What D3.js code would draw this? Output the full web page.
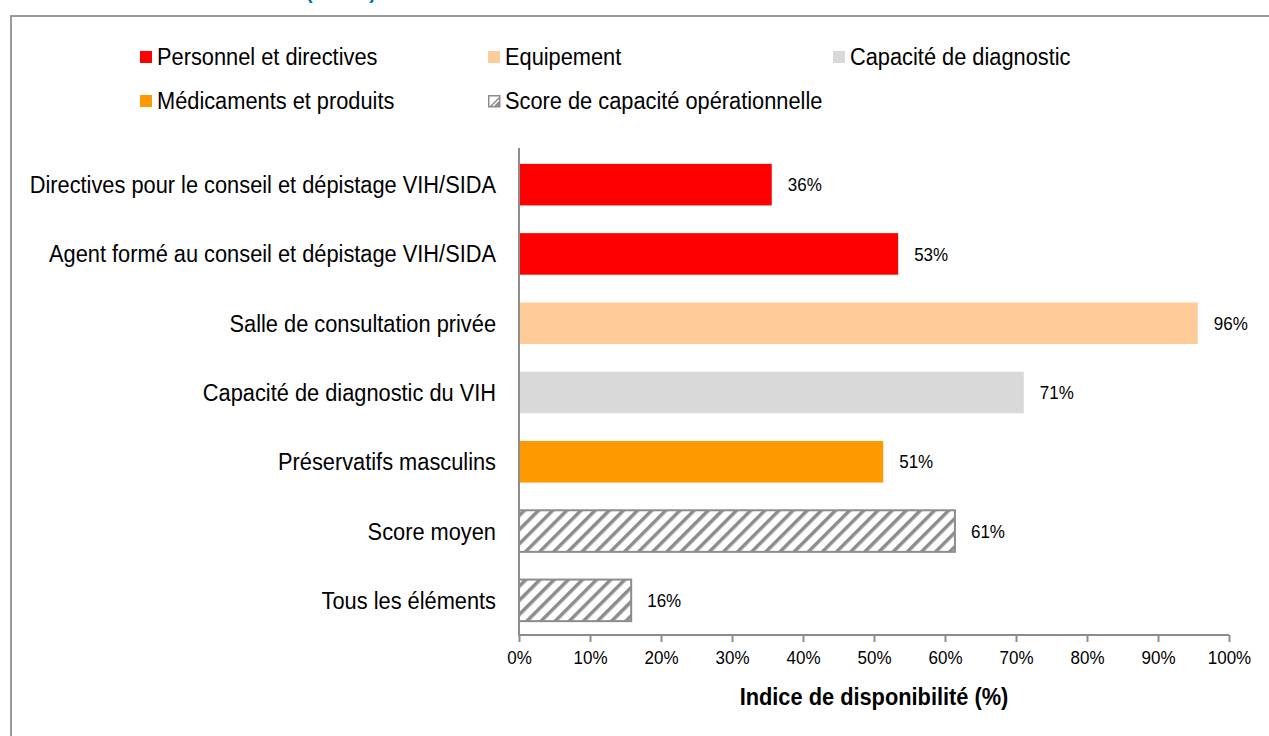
<!DOCTYPE html>
<html>
<head>
<meta charset="utf-8">
<script src="https://cdn.jsdelivr.net/npm/d3@7"></script>
<style>
  body { margin: 0; background: #fff; }
  text { font-family: "Liberation Sans", Arial, sans-serif; }
</style>
</head>
<body>
<div class="chart-div"></div>
<script>
//--------------------------- Data

var categories = [
    "Directives pour le conseil et dépistage VIH/SIDA",
    "Agent formé au conseil et dépistage VIH/SIDA",
    "Salle de consultation privée",
    "Capacité de diagnostic du VIH",
    "Préservatifs masculins",
    "Score moyen",
    "Tous les éléments"
];
var values = [35.6, 53.4, 95.6, 71.1, 51.3, 61.4, 15.8];
var labels = ["36%", "53%", "96%", "71%", "51%", "61%", "16%"];
var groups = ["pers", "pers", "equip", "diag", "med", "score", "score"];

var legendNames = ["Personnel et directives", "Equipement", "Capacité de diagnostic",
                   "Médicaments et produits", "Score de capacité opérationnelle"];
var legendKeys = ["pers", "equip", "diag", "med", "score"];
var ticks = [0, 10, 20, 30, 40, 50, 60, 70, 80, 90, 100];

var colors = { pers: "#FF0000", equip: "#FFCC99", diag: "#D9D9D9", med: "#FF9900", score: "url(#hatch)" };

//--------------------------- SVG definition

var width = 1269;
var height = 736;
var narrow = 0.9;                 // horizontal squeeze, the source used a condensed font
var bigFont = 21.8 / narrow;
var smallFont = 17 / narrow;

var svg = d3.select("div.chart-div")
    .append("svg")
    .attr("width", width)
    .attr("height", height)

var defs = svg.append("defs")
var pat = defs.append("pattern")
    .attr("id", "hatch")
    .attr("patternUnits", "userSpaceOnUse")
    .attr("width", 10)
    .attr("height", 10)
    .attr("patternTransform", "rotate(45)")
pat.append("rect").attr("width", 10).attr("height", 10).attr("fill", "white")
pat.append("rect").attr("x", 0).attr("width", 3.5).attr("height", 10).attr("fill", "#8c8c8c")

// text placed at (x, y) and squeezed horizontally
function label(g, x, y, str, size) {
    return g.append("text")
        .attr("transform", "translate(" + x + "," + y + ") scale(" + narrow + ",1)")
        .attr("dy", "0.35em")
        .text(str)
        .attr("font-size", size)
        .style("fill", "#000")
}

//--------------------------- Cut-off title and frame

svg.append("text")
    .attr("x", 306)
    .attr("y", -1)
    .text("(SARA)")
    .attr("font-size", 20)
    .attr("font-weight", "bold")
    .style("fill", "#0070C0")

svg.append("rect")
    .attr("x", 11)
    .attr("y", 16)
    .attr("width", 1300)
    .attr("height", 800)
    .attr("fill", "none")
    .attr("stroke", "#9a9a9a")
    .attr("stroke-width", 2)

//--------------------------- Scales

var x = d3.scaleLinear().domain([0, 100]).range([519, 1229]);
var y = d3.scaleBand().domain(categories).range([150, 635]).paddingInner(0.4).paddingOuter(0.2);

//--------------------------- Legend

var legendX = [140, 488, 833, 140, 488];
var legendY = [57, 57, 57, 101, 101];

var legend = svg.append("g")
for (k = 0; k < legendNames.length; k++) {
    var key = legendKeys[k];
    var lx = legendX[k], ly = legendY[k];
    if (key == "score") {
        // small hatched key: gray square, white corner, one diagonal
        legend.append("rect")
            .attr("x", lx + 0.75).attr("y", ly - 5.25)
            .attr("width", 11).attr("height", 11)
            .attr("fill", "white")
            .attr("stroke", "#8c8c8c")
            .attr("stroke-width", 1.5)
        legend.append("path")
            .attr("d", "M" + (lx + 2) + "," + (ly + 5) + "L" + (lx + 11) + "," + (ly - 4) + "L" + (lx + 11) + "," + (ly + 5) + "Z")
            .attr("fill", "#8c8c8c")
        legend.append("path")
            .attr("d", "M" + (lx + 5) + "," + (ly + 5) + "L" + (lx + 11) + "," + (ly - 1))
            .attr("stroke", "white")
            .attr("stroke-width", 1.5)
    } else {
        legend.append("rect")
            .attr("x", lx)
            .attr("y", ly - 6)
            .attr("width", 12)
            .attr("height", 12)
            .attr("fill", colors[key])
    }
    label(legend, lx + 17, ly, legendNames[k], bigFont)
}

//--------------------------- Bars

var frame = svg.append("g")

frame.selectAll("rect.bar").data(values).enter()
    .append("rect")
    .attr("class", "bar")
    .attr("x", x(0))
    .attr("y", function (d, i) { return y(categories[i]); })
    .attr("width", function (d) { return x(d) - x(0); })
    .attr("height", y.bandwidth())
    .attr("fill", function (d, i) { return colors[groups[i]]; })
    .attr("stroke", function (d, i) { return groups[i] == "score" ? "#8c8c8c" : "none"; })
    .attr("stroke-width", 2)

for (i = 0; i < values.length; i++) {
    var cy = y(categories[i]) + y.bandwidth() / 2;
    label(frame, x(values[i]) + 16, cy, labels[i], smallFont)
    label(frame, 496, cy, categories[i], bigFont).style("text-anchor", "end")
}

//--------------------------- Axes

var xAxis = svg.append("g")
    .attr("transform", "translate(0,635)")
    .call(d3.axisBottom(x).tickValues(ticks).tickSize(7).tickPadding(9)
        .tickFormat(function (d) { return d + "%"; }))
xAxis.select(".domain").attr("stroke", "#8c8c8c").attr("stroke-width", 2).attr("d", "M519,0H1229")
xAxis.selectAll(".tick line").attr("stroke", "#8c8c8c").attr("stroke-width", 2)
xAxis.selectAll(".tick text")
    .attr("font-size", smallFont)
    .attr("font-family", "Liberation Sans, Arial, sans-serif")
    .attr("transform", "scale(" + narrow + ",1)")
    .style("fill", "#000")

svg.append("line")
    .attr("x1", 519).attr("x2", 519)
    .attr("y1", 148).attr("y2", 636)
    .attr("stroke", "#8c8c8c")
    .attr("stroke-width", 2)

label(svg, 874, 697, "Indice de disponibilité (%)", bigFont)
    .style("text-anchor", "middle")
    .attr("font-weight", "bold")
</script>
</body>
</html>
